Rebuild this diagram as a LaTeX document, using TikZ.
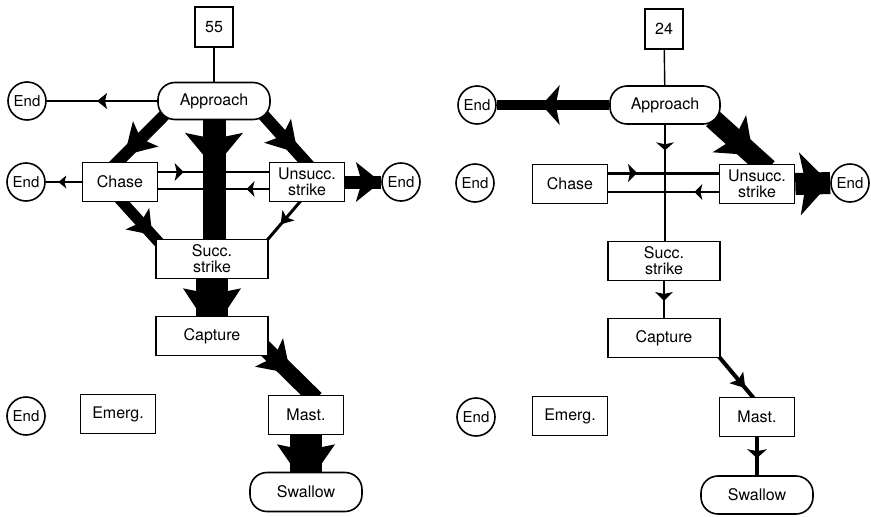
\documentclass[tikz,border=0pt]{standalone}
\usepackage{fontspec}
\setmainfont{TeX Gyre Heros}
\usepackage{tikz}
\usetikzlibrary{arrows.meta,positioning,backgrounds,decorations.markings}
\tikzset{
  stage/.style={draw=black,line width=1.6pt,fill=white,align=center,inner sep=1pt,font=\fontsize{16}{16}\selectfont,minimum width=75pt,minimum height=39pt},
  widestage/.style={stage,minimum width=112pt},
  pill/.style={widestage,rounded corners=17pt,minimum height=37pt},
  endc/.style={draw=black,line width=1.6pt,fill=white,circle,minimum size=38pt,inner sep=0pt,font=\fontsize{15}{15}\selectfont},
  tally/.style={draw=black,line width=1.6pt,fill=white,minimum width=38pt,minimum height=40pt,font=\fontsize{16}{16}\selectfont},
  fl/.style={draw=black,line width=#1},
  head/.style args={#1/#2/#3/#4}{postaction={decorate},decoration={markings,mark=at position #1 with {\arrow{Stealth[length=#2pt,width=#3pt,inset=#4pt,line width=0pt]}}}},
}
\begin{document}
\begin{tikzpicture}[x=1pt,y=-1pt]
\useasboundingbox (0,0) rectangle (871,517);
% left: 55 sequences
\node[tally] (n55) at (214,27) {55};
\node[pill] (appL) at (214,101) {Approach};
\node[stage] (chaseL) at (120,182) {Chase};
\node[stage] (unsL) at (307,182) {Unsucc.\\strike};
\node[widestage] (succL) at (212,259) {Succ.\\strike};
\node[widestage] (capL) at (212,336) {Capture};
\node[stage] (mastL) at (306,415) {Mast.};
\node[pill,minimum height=39pt] (swL) at (306,492) {Swallow};
\node[stage] (emL) at (118,414) {Emerg.};
\node[endc] (endAL) at (27,101) {End};
\node[endc] (endCL) at (26,182) {End};
\node[endc] (endUL) at (401,182) {End};
\node[endc] (endEL) at (26,416) {End};
% right: 24 sequences
\node[tally] (n24) at (664,29) {24};
\node[pill,minimum width=110pt,minimum height=38pt] (appR) at (665,105) {Approach};
\node[stage] (chaseR) at (570,184) {Chase};
\node[stage] (unsR) at (757,184) {Unsucc.\\strike};
\node[widestage] (succR) at (664,261) {Succ.\\strike};
\node[widestage] (capR) at (664,338) {Capture};
\node[stage] (mastR) at (757,417) {Mast.};
\node[pill,minimum height=38pt] (swR) at (757,495) {Swallow};
\node[stage] (emR) at (570,416) {Emerg.};
\node[endc] (endAR) at (477,105) {End};
\node[endc] (endCR) at (475,183) {End};
\node[endc] (endUR) at (850,183) {End};
\node[endc] (endER) at (476,417) {End};

\begin{scope}[on background layer]
% left flows
\draw[fl=1.4pt] (n55) -- (appL);
\draw[fl=2.2pt,head=0.545/10/16/2] (appL.west) -- (endAL.east);
\draw[fl=12pt,head=0.78/30/36/7] ([shift={(8,-6)}]appL.south west) -- ([shift={(-7,5)}]chaseL.north);
\draw[fl=23pt,head=0.343/35/58/6] (appL.south) -- (appL.south |- succL.center);
\draw[fl=12pt,head=0.74/30/36/7] ([shift={(-8,-6)}]appL.south east) -- ([shift={(3,5)}]unsL.north);
\draw[fl=2.2pt,head=0.65/8/13/2] (chaseL.west) -- (endCL.east);
\draw[fl=2.2pt,head=0.23/9/18/2] ([yshift=10pt]chaseL.east) -- ([yshift=10pt]unsL.west);
\draw[fl=2.2pt,head=0.2/8/16/2] ([yshift=-7pt]unsL.west) -- ([yshift=-7pt]chaseL.east);
\draw[fl=13pt,head=0.99/25/40/6] (unsL.east) -- (endUL.west);
\draw[fl=11pt,head=0.83/22/32/5] ([shift={(-2,-5)}]chaseL.south) -- ([shift={(4,4)}]succL.north west);
\draw[fl=3pt,head=0.6/12/16/3] ([shift={(-4,-4)}]unsL.south) -- ([shift={(-3,3)}]succL.north east);
\draw[fl=32pt,head=0.935/44/58/6] (succL) -- (succL |- capL);
\draw[fl=16pt,head=0.52/30/40/7] ([shift={(-6,-10)}]capL.south east) -- ([shift={(10,4)}]mastL.north);
\draw[fl=32pt,head=0.9/42/58/6] (mastL) -- (mastL |- swL);
% right flows
\draw[fl=1.4pt] (n24) -- (appR);
\draw[fl=10pt,head=0.6/18/40/4] (appR.west) -- (endAR.east);
\draw[fl=2.2pt,head=0.22/8/18/2] (appR.south) -- (appR.south |- succR.north);
\draw[fl=20pt,head=0.73/32/50/7] ([shift={(-8,-6)}]appR.south east) -- ([shift={(11,5)}]unsR.north);
\draw[fl=3pt,head=0.26/9/18/2] ([yshift=11pt]chaseR.east) -- ([yshift=11pt]unsR.west);
\draw[fl=2.2pt,head=0.22/8/16/2] ([yshift=-8pt]unsR.west) -- ([yshift=-8pt]chaseR.east);
\draw[fl=22pt,head=0.99/30/63/6] (unsR.east) -- (endUR.west);
\draw[fl=2.2pt,head=0.54/9/18/2] (succR.south) -- (capR.north);
\draw[fl=4pt,head=0.74/14/18/3] ([shift={(-3,-3)}]capR.south east) -- ([shift={(-2,3)}]mastR.north);
\draw[fl=4pt,head=0.55/9/20/2] (mastR.south) -- (mastR.south |- swR.north);
\end{scope}
\end{tikzpicture}
\end{document}
